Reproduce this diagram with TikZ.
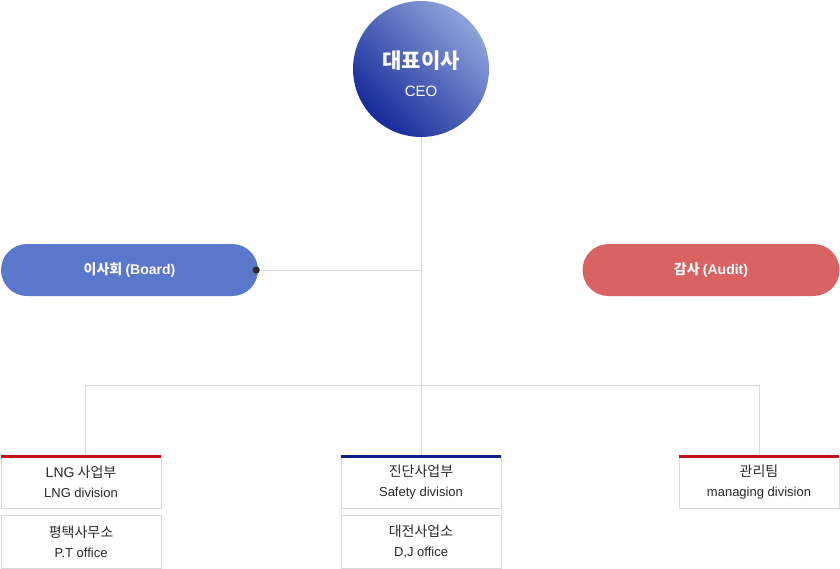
\documentclass[tikz,border=0pt]{standalone}
\usepackage{fontspec}
\setmainfont{Noto Sans CJK KR}
\newfontfamily\en{Liberation Sans}
\usetikzlibrary{positioning}
\definecolor{lineg}{HTML}{D9D9D9}
\definecolor{boardc}{HTML}{5B77CC}
\definecolor{auditc}{HTML}{D96262}
\definecolor{redbar}{HTML}{C0161B}
\definecolor{navybar}{HTML}{0F1F8A}
\definecolor{txt}{HTML}{2A2A2A}
\definecolor{ceolight}{HTML}{8FA3DA}
\definecolor{ceodark}{HTML}{15299A}
\tikzset{
  conn/.style={draw=lineg, line width=0.8pt},
  pill/.style={rectangle, rounded corners=26pt, minimum width=257pt, minimum height=52pt, text=white, font=\fontsize{14}{16}\selectfont\bfseries, inner sep=0pt},
  unit/.style={rectangle, draw=lineg, line width=0.8pt, fill=white, minimum width=160pt, minimum height=53pt, text=txt, align=center, inner sep=0pt, font=\fontsize{13}{20}\selectfont},
  topbar/.style={line width=3pt}
}
\newcommand{\kr}[1]{{\fontsize{14}{20}\selectfont #1}}
\newcommand{\eng}[1]{{\en\fontsize{13}{20}\selectfont #1}}
\begin{document}
\begin{tikzpicture}[x=1pt,y=-1pt]
\useasboundingbox (0,0) rectangle (840,568);
% CEO
\node[circle, minimum size=136pt, inner sep=0pt, shading=axis, top color=ceolight, bottom color=ceodark, shading angle=-45, text=white, font=\fontsize{15}{28}\selectfont] (ceo) at (421,69)
  {\raisebox{-11pt}[0pt][0pt]{\begin{tabular}{@{}c@{}}{\fontsize{21}{21}\selectfont\bfseries 대표이사}\\{\en CEO}\end{tabular}}};
% junctions
\coordinate (bj) at (421,270);
\coordinate (hj) at (421,385);
\coordinate (hl) at (85,385);
\coordinate (hr) at (759,385);
% board & audit
\node[pill, fill=boardc] (board) at (129.5,270) {이사회 {\en(Board)}};
\node[pill, fill=auditc] (audit) at (711,270) {감사 {\en(Audit)}};
% units
\node[unit] (lng) at (81,482) {\kr{{\en LNG} 사업부}\\\eng{LNG division}};
\node[unit] (pt) at (81,542) {\kr{평택사무소}\\\eng{P.T office}};
\node[unit] (saf) at (421,482) {\kr{진단사업부}\\\eng{Safety division}};
\node[unit] (dj) at (421,542) {\kr{대전사업소}\\\eng{D,J office}};
\node[unit] (mgr) at (759,482) {\kr{관리팀}\\\eng{managing division}};
% connectors
\draw[conn] (ceo.south) -- (hj);
\draw[conn] (board.east) -- (bj);
\draw[conn] (hl) -- (hr);
\draw[conn] (hl) -- (hl |- lng.north);
\draw[conn] (hj) -- (saf.north);
\draw[conn] (hr) -- (mgr.north);
\fill[txt] (board.east) ++(-2,0) circle (3.6pt);
% top bars
\draw[topbar, redbar] ([yshift=-1pt]lng.north west) -- ([yshift=-1pt]lng.north east);
\draw[topbar, navybar] ([yshift=-1pt]saf.north west) -- ([yshift=-1pt]saf.north east);
\draw[topbar, redbar] ([yshift=-1pt]mgr.north west) -- ([yshift=-1pt]mgr.north east);
\end{tikzpicture}
\end{document}
